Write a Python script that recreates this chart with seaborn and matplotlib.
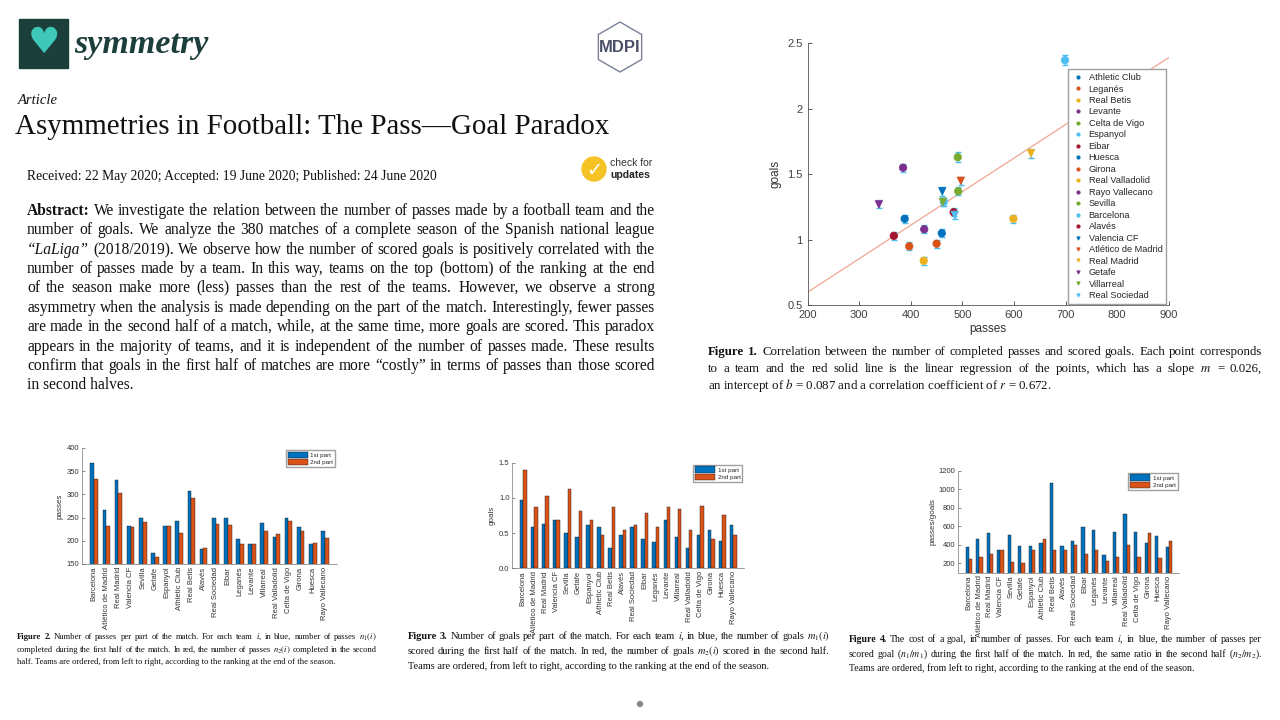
import math
import numpy as np
import pandas as pd
import matplotlib
matplotlib.use('Agg')
import matplotlib.pyplot as plt
import seaborn as sns
from matplotlib.patches import Rectangle, Circle, RegularPolygon
from matplotlib.transforms import IdentityTransform
from matplotlib.backends.backend_agg import get_hinting_flag

# ---- data ----
teams = ['Barcelona', 'Atlético de Madrid', 'Real Madrid', 'Valencia CF', 'Sevilla', 'Getafe',
         'Espanyol', 'Athletic Club', 'Real Betis', 'Alavés', 'Real Sociedad', 'Eibar', 'Leganés',
         'Levante', 'Villarreal', 'Real Valladolid', 'Celta de Vigo', 'Girona', 'Huesca', 'Rayo Vallecano']
passes_1st = [367, 266, 330, 231, 250, 173, 232, 243, 308, 182, 249, 249, 203, 192, 239, 209, 250, 230, 193, 221]
passes_2nd = [333, 231, 304, 229, 241, 166, 232, 217, 292, 184, 236, 234, 194, 193, 222, 215, 243, 220, 195, 205]
goals_1st = [0.97, 0.58, 0.63, 0.68, 0.50, 0.45, 0.61, 0.58, 0.29, 0.47, 0.58, 0.42, 0.37, 0.68, 0.45, 0.29, 0.47, 0.55, 0.39, 0.61]
goals_2nd = [1.40, 0.87, 1.03, 0.68, 1.13, 0.82, 0.68, 0.47, 0.87, 0.55, 0.61, 0.79, 0.58, 0.87, 0.84, 0.55, 0.89, 0.42, 0.76, 0.47]
cost_1st = [380, 463, 524, 344, 506, 391, 387, 423, 1067, 391, 437, 596, 556, 286, 542, 732, 535, 423, 495, 373]
cost_2nd = [243, 272, 297, 340, 218, 207, 344, 463, 340, 340, 394, 301, 340, 229, 268, 394, 272, 527, 261, 441]

sc_teams = ['Athletic Club', 'Leganés', 'Real Betis', 'Levante', 'Celta de Vigo', 'Espanyol', 'Eibar',
            'Huesca', 'Girona', 'Real Valladolid', 'Rayo Vallecano', 'Sevilla', 'Barcelona', 'Alavés',
            'Valencia CF', 'Atlético de Madrid', 'Real Madrid', 'Getafe', 'Villarreal', 'Real Sociedad']
sc_passes = [460, 397, 599, 385, 492, 464, 483, 388, 450, 425, 426, 491, 699, 367, 461, 497, 633, 338, 462, 485]
sc_goals = [1.05, 0.95, 1.16, 1.55, 1.37, 1.29, 1.21, 1.16, 0.97, 0.84, 1.08, 1.63, 2.37, 1.03, 1.37, 1.45, 1.66, 1.27, 1.29, 1.19]
sc_err = [0.03, 0.03, 0.03, 0.03, 0.03, 0.03, 0.03, 0.03, 0.03, 0.03, 0.03, 0.04, 0.04, 0.03, 0.035, 0.03, 0.035, 0.03, 0.03, 0.03]
reg_x = [200, 900]
reg_y = [0.60, 2.39]

matlab = ['#0072BD', '#D95319', '#EDB120', '#7E2F8E', '#77AC30', '#4DBEEE', '#A2142F']
W, H = 1280, 720
SERIF = ['Liberation Serif', 'DejaVu Serif']

sns.set_theme(style='ticks')
plt.rcParams['font.family'] = ['Liberation Sans', 'DejaVu Sans']
plt.rcParams['mathtext.fontset'] = 'stix'
plt.rcParams['xtick.direction'] = 'in'
plt.rcParams['ytick.direction'] = 'in'

fig = plt.figure(figsize=(12.8, 7.2), dpi=100)
fig.patch.set_facecolor('white')
R = fig.canvas.get_renderer()


def pos(x, y):
    return x / W, 1 - y / H


def baseline_fix(t):
    # Agg snaps each string's bitmap to whole pixels; undo that so words share one baseline
    s = t.get_text()
    if '$' in s:
        return 0
    font = R._prepare_font(t.get_fontproperties())
    font.set_text(s, 0, flags=get_hinting_flag())
    h = font.get_width_height()[1] / 64
    d = font.get_descent() / 64
    return math.floor(h) - math.floor(h - d) - round(d)


def text_line(line, x0, x1, yc, size, justify=True, nbold=0, italic=None, color='#111111', family=SERIF,
              weight='normal', style='normal'):
    # one text per word, spread to fill x0..x1 when justified
    base = round(yc + size * 0.24 * 100 / 72)
    if not justify:
        fig.text(*pos(x0, base), line, fontsize=size, family=family, color=color, fontweight=weight,
                 fontstyle=style, va='baseline', ha='left')
        return
    words = line.split()
    arts = []
    for k, w in enumerate(words):
        arts.append(fig.text(0, 0, w, fontsize=size, family=family, color=color,
                             fontweight='bold' if k < nbold else 'normal',
                             fontstyle='italic' if w == italic else 'normal',
                             va='baseline', ha='left'))
    widths = [t.get_window_extent(R).width for t in arts]
    gap = (x1 - x0 - sum(widths)) / (len(arts) - 1)
    x = x0
    for t, w in zip(arts, widths):
        t.set_position(pos(x, base + baseline_fix(t)))
        x += w + gap


# ---- header ----
fig.add_artist(Rectangle((19, H - 68), 49, 49, transform=IdentityTransform(), color='#1d3f3c'))
fig.text(*pos(43.5, 43), '\u2665', fontsize=26, color='#3fc7b9', ha='center', va='center', family='DejaVu Sans')
text_line('symmetry', 74, 74, 45, 24.5, justify=False, color='#1d3f3c', weight='bold', style='italic')
fig.add_artist(RegularPolygon((620, H - 47), 6, radius=25, orientation=0, transform=IdentityTransform(),
                              fill=False, edgecolor='#7a8098', linewidth=1.0))
fig.text(*pos(620, 48), 'MDPI', fontsize=12, fontweight='bold', color='#4a5068', ha='center', va='center')
text_line('Article', 18, 18, 101, 10.5, justify=False, style='italic')
text_line('Asymmetries in Football: The Pass\u2014Goal Paradox', 15, 611, 127, 20.9, justify=False)
text_line('Received: 22 May 2020; Accepted: 19 June 2020; Published: 24 June 2020', 27, 436, 177, 9.8,
          justify=False)
fig.add_artist(Circle((594, H - 169), 12, transform=IdentityTransform(), color='#f5c324'))
fig.text(*pos(594, 170), '\u2713', fontsize=14, fontweight='bold', color='white', ha='center', va='center',
         family='DejaVu Sans')
fig.text(*pos(610, 163), 'check for', fontsize=7.5, color='#333333', va='center')
fig.text(*pos(610, 175), 'updates', fontsize=7.5, fontweight='bold', color='#222222', va='center')
fig.add_artist(Circle((640, H - 704), 2.5, transform=IdentityTransform(), color='#888888'))

# ---- abstract ----
abstract = [
    'Abstract:  We investigate the relation between the number of passes made by a football team and the',
    'number of goals. We analyze the 380 matches of a complete season of the Spanish national league',
    '\u201cLaLiga\u201d (2018/2019). We observe how the number of scored goals is positively correlated with the',
    'number of passes made by a team. In this way, teams on the top (bottom) of the ranking at the end',
    'of the season make more (less) passes than the rest of the teams.  However, we observe a strong',
    'asymmetry when the analysis is made depending on the part of the match. Interestingly, fewer passes',
    'are made in the second half of a match, while, at the same time, more goals are scored. This paradox',
    'appears in the majority of teams, and it is independent of the number of passes made. These results',
    'confirm that goals in the first half of matches are more \u201ccostly\u201d in terms of passes than those scored',
    'in second halves.',
]
for k, line in enumerate(abstract):
    text_line(line, 27, 655, 211 + k * 19.4, 11.2, justify=k < len(abstract) - 1,
              nbold=1 if k == 0 else 0, italic='\u201cLaLiga\u201d')

cap1 = [
    'Figure 1. Correlation between the number of completed passes and scored goals. Each point corresponds',
    'to a team and the red solid line is the linear regression of the points, which has a slope $m$ = 0.026,',
    'an intercept of $b$ = 0.087 and a correlation coefficient of $r$ = 0.672.',
]
for k, line in enumerate(cap1):
    text_line(line, 708, 1262, 352 + k * 17, 9.3, justify=k < 2, nbold=2 if k == 0 else 0)

cap2 = [
    'Figure 2. Number of passes per part of the match. For each team $i$, in blue, number of passes $n_1(i)$',
    'completed during the first half of the match. In red, the number of passes $n_2(i)$ completed in the second',
    'half. Teams are ordered, from left to right, according to the ranking at the end of the season.',
]
for k, line in enumerate(cap2):
    text_line(line, 17, 377, 637 + k * 12.5, 6.25, justify=k < 2, nbold=2 if k == 0 else 0)

cap3 = [
    'Figure 3. Number of goals per part of the match. For each team $i$, in blue, the number of goals $m_1(i)$',
    'scored during the first half of the match. In red, the number of goals $m_2(i)$ scored in the second half.',
    'Teams are ordered, from left to right, according to the ranking at the end of the season.',
]
for k, line in enumerate(cap3):
    text_line(line, 408, 830, 637 + k * 15, 7.45, justify=k < 2, nbold=2 if k == 0 else 0)

cap4 = [
    'Figure 4. The cost of a goal, in number of passes. For each team $i$, in blue, the number of passes per',
    'scored goal ($n_1/m_1$) during the first half of the match. In red, the same ratio in the second half ($n_2/m_2$).',
    'Teams are ordered, from left to right, according to the ranking at the end of the season.',
]
for k, line in enumerate(cap4):
    text_line(line, 849, 1262, 640 + k * 14.5, 7.15, justify=k < 2, nbold=2 if k == 0 else 0)

# ---- scatter (figure 1) ----
ax = fig.add_axes([0.631, 0.576, 0.282, 0.364])
df_sc = pd.DataFrame({'team': sc_teams, 'passes': sc_passes, 'goals': sc_goals})
colors = {t: matlab[i % 7] for i, t in enumerate(sc_teams)}
markers = {t: ('o' if i < 14 else 'v') for i, t in enumerate(sc_teams)}
sns.lineplot(x=reg_x, y=reg_y, color='#f2a58e', linewidth=0.9, ax=ax)
ax.errorbar(sc_passes, sc_goals, yerr=sc_err, fmt='none', ecolor='#4DBEEE', elinewidth=1.0, capsize=2.2,
            capthick=1.0, zorder=3)
sns.scatterplot(data=df_sc, x='passes', y='goals', hue='team', style='team', hue_order=sc_teams,
                style_order=sc_teams, palette=colors, markers=markers, s=28, edgecolor='face',
                linewidth=0.6, ax=ax, zorder=4)
ax.set_xlim(200, 900)
ax.set_ylim(0.5, 2.5)
ax.set_xticks(range(200, 901, 100))
ax.set_yticks([0.5, 1, 1.5, 2, 2.5])
ax.set_yticklabels(['0.5', '1', '1.5', '2', '2.5'])
ax.set_xlabel('passes', fontsize=8.5, color='#333333', labelpad=2)
ax.set_ylabel('goals', fontsize=8.5, color='#333333', labelpad=4)
ax.tick_params(labelsize=8, colors='#404040', length=3, width=0.6)
sns.despine(ax=ax)
for s in ['left', 'bottom']:
    ax.spines[s].set_linewidth(0.6)
    ax.spines[s].set_color('#555555')
h, l = ax.get_legend_handles_labels()
ax.legend(h, l, loc='upper left', bbox_to_anchor=(0.72, 0.9), fontsize=6.6, markerscale=0.45,
          frameon=True, fancybox=False, edgecolor='#a0a0a0', framealpha=1, labelspacing=0.27,
          handletextpad=0.5, borderpad=0.4, handlelength=1.4, borderaxespad=0)

# ---- bar charts ----
def bar_chart(rect, v1, v2, ylim, yticks, ylabel):
    a = fig.add_axes(rect)
    d = pd.DataFrame({'team': teams * 2, 'value': v1 + v2,
                      'part': ['1st part'] * len(teams) + ['2nd part'] * len(teams)})
    sns.barplot(data=d, x='team', y='value', hue='part', palette=['#0072BD', '#D95319'], saturation=1,
                width=0.62, edgecolor='#1a1a1a', linewidth=0.3, errorbar=None, ax=a)
    a.set_xlim(-1, 20)
    a.set_ylim(*ylim)
    a.set_yticks(yticks)
    a.set_xlabel('')
    a.set_ylabel(ylabel, fontsize=5.8, color='#333333', labelpad=2)
    a.tick_params(axis='x', labelrotation=90, labelsize=5.5, colors='#333333', length=0, pad=2)
    a.tick_params(axis='y', labelsize=5.5, colors='#333333', length=2, width=0.4, pad=2)
    sns.despine(ax=a)
    for s in ['left', 'bottom']:
        a.spines[s].set_linewidth(0.5)
        a.spines[s].set_color('#777777')
    a.legend(loc='upper right', fontsize=4.5, frameon=True, fancybox=False, edgecolor='#a0a0a0',
             framealpha=1, handlelength=3.2, handleheight=1.2, labelspacing=0.15, borderpad=0.3,
             handletextpad=0.4, borderaxespad=0.3, title=None)
    return a


bar_chart([0.0641, 0.2167, 0.1992, 0.1611], passes_1st, passes_2nd, (150, 400),
          range(150, 401, 50), 'passes')
bar_chart([0.4002, 0.2107, 0.1813, 0.1467], goals_1st, goals_2nd, (0, 1.5),
          [0, 0.5, 1, 1.5], 'goals')
bar_chart([0.7487, 0.2046, 0.1727, 0.1417], cost_1st, cost_2nd, (100, 1200),
          range(200, 1201, 200), 'passes/goals')

fig.savefig('out.png', dpi=100)
